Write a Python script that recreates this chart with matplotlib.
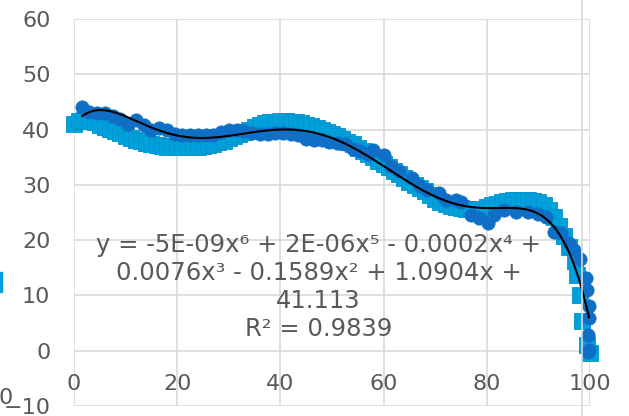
import numpy as np
import matplotlib.pyplot as plt
from matplotlib.patches import Rectangle
from matplotlib.lines import Line2D

# series 1 (light blue squares)
sq_x = list(range(0, 98)) + [97.5, 98, 98.5, 99.5, 100]
sq_y = [41.0, 41.5, 41.8, 41.6, 41.3, 40.9, 40.5, 40.1, 39.7, 39.3,
        38.9, 38.5, 38.2, 37.9, 37.6, 37.4, 37.2, 37.0, 36.9, 36.8,
        36.8, 36.8, 36.8, 36.8, 36.9, 37.0, 37.2, 37.4, 37.7, 38.0,
        38.4, 38.8, 39.2, 39.6, 40.0, 40.4, 40.8, 41.1, 41.3, 41.4,
        41.5, 41.5, 41.4, 41.3, 41.1, 40.9, 40.6, 40.3, 40.0, 39.6,
        39.2, 38.8, 38.3, 37.8, 37.3, 36.7, 36.2, 35.6, 35.0, 34.4,
        33.8, 33.2, 32.5, 31.9, 31.3, 30.6, 30.0, 29.4, 28.8, 28.1,
        27.4, 26.9, 26.5, 26.2, 26.0, 25.9, 25.7, 25.6, 25.6, 25.7,
        26.0, 26.3, 26.6, 26.9, 27.1, 27.2, 27.3, 27.3, 27.3, 27.1,
        26.9, 26.4, 25.4, 24.2, 22.6, 20.8, 18.8, 16.2,
        13.7, 10.0, 5.4, 1.0, -0.4]

# series 2 (dark blue circles)
ci_x = [1.6, 3, 4.5, 6, 7.5, 9, 10.5, 12, 13.5, 15, 16.5, 18, 19.5, 21,
        22.5, 24, 25.5, 27, 28.5, 30, 31.5, 33, 34.5, 36, 37.5, 39, 40.5,
        42, 43.5, 45, 46.5, 48, 49.5, 51, 52.5, 54, 55.5, 57, 58, 60,
        61.5, 63, 65.6, 67, 68.5, 70.7, 72, 74, 75, 76.9, 78.5, 80.2,
        81.4, 83.3, 85.6, 88, 90, 91.5, 93, 94.4, 96, 96.9, 98, 99.3,
        99.5, 99.8, 99.8, 99.6, 99.8, 99.7]
ci_y = [44.0, 43.2, 43.0, 43.0, 42.5, 42.0, 41.0, 41.8, 40.8, 40.0, 40.2,
        40.0, 39.2, 39.0, 39.0, 39.0, 39.0, 39.0, 39.6, 40.0, 40.0, 39.8,
        39.3, 39.2, 39.2, 39.3, 39.3, 39.2, 39.0, 38.3, 38.2, 38.2, 37.8,
        37.6, 37.3, 36.5, 36.2, 35.6, 36.3, 35.4, 33.5, 32.5, 31.3, 29.8,
        29.0, 28.6, 27.2, 27.3, 26.9, 24.6, 24.0, 23.1, 24.6, 25.5, 25.1,
        25.1, 24.8, 24.2, 21.5, 21.3, 19.5, 18.3, 16.5, 13.2, 11.0, 8.0,
        6.0, 2.9, 0.2, -0.3]

eq_lines = ["y = -5E-09x⁶ + 2E-06x⁵ - 0.0002x⁴ +",
            "0.0076x³ - 0.1589x² + 1.0904x +",
            "41.113",
            "R² = 0.9839"]

grid_c = '#D9D9D9'
txt_c = '#595959'

fig = plt.figure(figsize=(6.29, 4.16), dpi=100)
ax = fig.add_axes([74/629, 1-406/416, (590-74)/629, (406-19)/416])

ax.scatter(sq_x, sq_y, marker='s', s=118, color='#00A0DC',
           edgecolors='#0094CC', linewidths=0.6, zorder=3, clip_on=False)
ax.scatter(ci_x, ci_y, marker='o', s=92, color='#0F6FC6',
           edgecolors='#0F6FC6', linewidths=0.5, zorder=4, clip_on=False)

# 6th order polynomial trendline of series 2
coef = np.polyfit(ci_x, ci_y, 6)
xt = np.linspace(min(ci_x), max(ci_x), 300)
ax.plot(xt, np.polyval(coef, xt), color='black', lw=1.5, zorder=5)

ax.set_xlim(0, 100)
ax.set_ylim(-10, 60)
ax.set_xticks(range(0, 101, 20))
ax.set_yticks(range(-10, 61, 10))
ax.grid(True, color=grid_c, lw=1.2)
ax.set_axisbelow(True)
for s in ax.spines.values():
    s.set_visible(False)
ax.spines['bottom'].set_position(('data', 0))
ax.tick_params(axis='x', length=0, pad=17, labelsize=16, labelcolor=txt_c)
ax.tick_params(axis='y', length=0, pad=17, labelsize=16, labelcolor=txt_c)

ty = [19.2, 14.1, 9.0, 3.9]
for line, y in zip(eq_lines, ty):
    ax.text(47.4, y, line, ha='center', va='center', fontsize=17.5,
            color=txt_c, zorder=6)

# stray bits around the chart
fig.add_artist(Line2D([582/629, 582/629], [0, 1], color=grid_c, lw=1.2))
fig.add_artist(Rectangle((0, 1-292/416), 2/629, 20/416, color='#00A0DC'))
fig.text(6/629, 1-398/416, '0', ha='center', va='center', fontsize=16,
         color=txt_c)

plt.savefig('out.png', dpi=100)
